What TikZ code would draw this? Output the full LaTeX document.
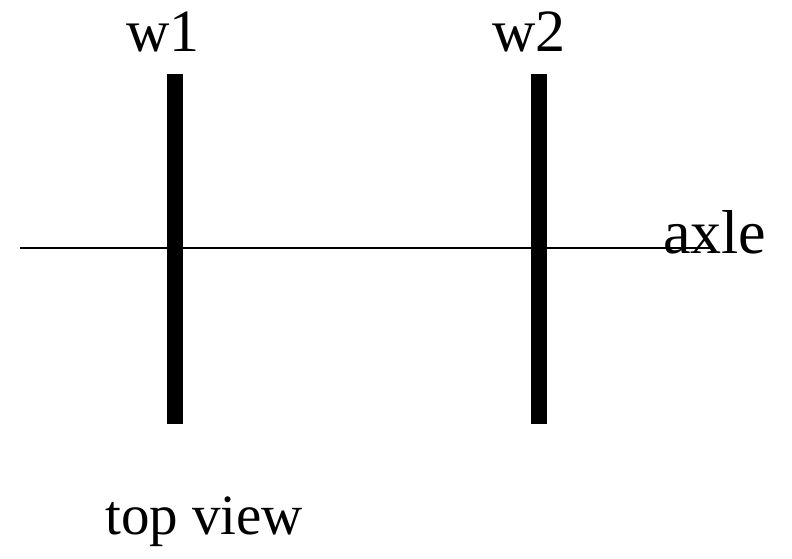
\documentclass[tikz,border=0pt]{standalone}
\usepackage{fontspec}
\setmainfont{Liberation Serif}
\usetikzlibrary{positioning}
\tikzset{lbl/.style={inner sep=0pt, font=\fontsize{57}{60}\selectfont},
	biglbl/.style={lbl, font=\fontsize{62}{66}\selectfont}}
\newcommand{\wheelbar}[2]{\draw[line width=16pt] (0,74) -- (0,424);
					\node[lbl, font=\fontsize{60}{64}\selectfont, anchor=base] (#1) at (#2,51) {#1};}

\begin{document}
\begin{tikzpicture}[x=1pt, y=-1pt]
					\useasboundingbox (0,0) rectangle (792,558);

					\coordinate (axleL) at (20,248);
					\coordinate (axleR) at (712,248);
					\draw[line width=2pt] (axleL) -- (axleR);

					\begin{scope}[xshift = 175pt]
						\wheelbar{w1}{-12}
					\end{scope}

					\begin{scope}[xshift = 539pt]
						\wheelbar{w2}{-10}
					\end{scope}

					\node[biglbl, anchor=base west] (axle) at (663,253) {axle};
					\node[lbl, anchor=base west] (view) at (105,534) {top view};

				\end{tikzpicture}
\end{document}
